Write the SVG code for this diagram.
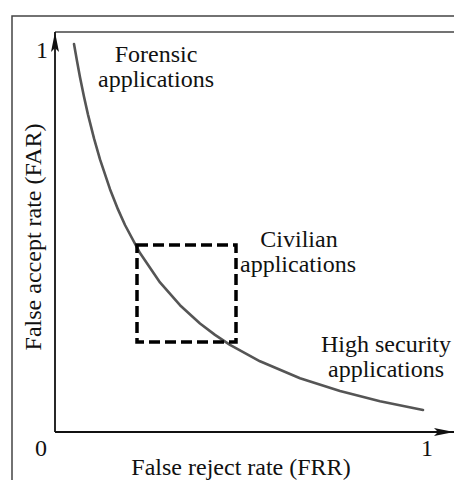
<svg xmlns="http://www.w3.org/2000/svg" width="454" height="480" viewBox="0 0 454 480">
  <style>
    text { font-family: "Liberation Serif", "DejaVu Serif", "Times New Roman", Times, serif; font-size: 24px; fill: #111; }
    .frame { fill: none; stroke: #444; stroke-width: 1.5; }
    .axis { fill: none; stroke: #111; stroke-width: 1.8; }
    .curve { fill: none; stroke: #555; stroke-width: 2.6; stroke-linecap: round; stroke-linejoin: round; }
    .region { fill: none; stroke: #000; stroke-width: 3.5; stroke-dasharray: 11 5; }
  </style>
  <defs>
    <marker id="arrow" viewBox="0 0 20 8" refX="20" refY="4" markerWidth="20" markerHeight="8" markerUnits="userSpaceOnUse" orient="auto">
      <path d="M0,0 L20,4 L0,8 L4,4 Z" fill="#111"/>
    </marker>
  </defs>
  <rect width="454" height="480" fill="#fff"/>

  <!-- outer and inner frames -->
  <g id="frame">
    <path class="frame" d="M12,480 V16 H454"/>
    <path class="frame" d="M55,32 H454"/>
  </g>

  <!-- axes -->
  <g id="connectors">
    <line class="axis" x1="55" y1="432" x2="55" y2="32" marker-end="url(#arrow)"/>
    <line class="axis" x1="55" y1="432" x2="454" y2="432" marker-end="url(#arrow)"/>
  </g>

  <!-- tick labels -->
  <g id="ticks">
    <text font-family="Liberation Serif, serif" x="42" y="58" text-anchor="middle">1</text>
    <text font-family="Liberation Serif, serif" x="41" y="456" text-anchor="middle">0</text>
    <text font-family="Liberation Serif, serif" x="427" y="456" text-anchor="middle">1</text>
  </g>

  <!-- axis titles -->
  <g id="x-title">
    <text x="241" y="475" text-anchor="middle">False reject rate (FRR)</text>
  </g>
  <g id="y-title">
    <text x="0" y="0" text-anchor="middle" transform="translate(41,237) rotate(-90)">False accept rate (FAR)</text>
  </g>

  <!-- trade-off curve -->
  <g id="curve">
    <path class="curve" d="M74,44 L77,61 L80,77.3 L84,96.8 L88,114.6 L94,138.4 L100,159.4 L110,189.2 L118,209.4 L125,225 L140,253.1 L160,282.4 L180,305.2 L200,323.5 L215,334.9 L230,344.9 L260,361.3 L300,378.2 L340,391.1 L380,401.2 L423,410"/>
  </g>

  <!-- civilian operating region -->
  <g id="civilian-box">
    <rect class="region" x="137" y="245" width="99" height="97"/>
  </g>

  <!-- application labels -->
  <g id="forensic">
    <text x="156" y="62" text-anchor="middle">Forensic</text>
    <text x="156" y="87" text-anchor="middle">applications</text>
  </g>
  <g id="civilian">
    <text x="299" y="247" text-anchor="middle">Civilian</text>
    <text x="298" y="272" text-anchor="middle">applications</text>
  </g>
  <g id="high-security">
    <text x="386" y="352" text-anchor="middle">High security</text>
    <text x="386" y="377" text-anchor="middle">applications</text>
  </g>
</svg>
